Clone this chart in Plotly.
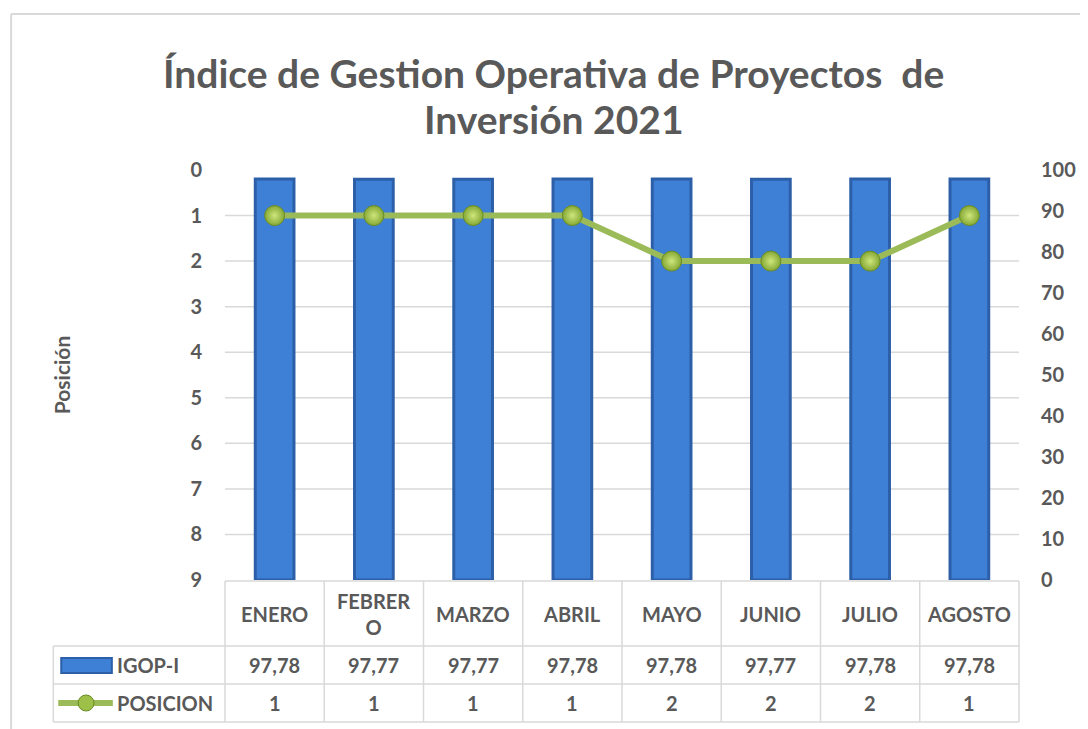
import plotly.graph_objects as go

months = ["ENERO", "FEBRERO", "MARZO", "ABRIL", "MAYO", "JUNIO", "JULIO", "AGOSTO"]
month_labels = ["ENERO", "FEBRER<br>O", "MARZO", "ABRIL", "MAYO", "JUNIO", "JULIO", "AGOSTO"]
igop = [97.78, 97.77, 97.77, 97.78, 97.78, 97.77, 97.78, 97.78]
igop_text = ["97,78", "97,77", "97,77", "97,78", "97,78", "97,77", "97,78", "97,78"]
posicion = [1, 1, 1, 1, 2, 2, 2, 1]
left_ticks = list(range(0, 10))
right_ticks = list(range(0, 101, 10))
title_lines = ["Índice de Gestion Operativa de Proyectos  de", "Inversión 2021"]

FONT = "Lato, Carlito, 'DejaVu Sans', sans-serif"
GRAY = "#595959"
GRID = "#d9d9d9"
BAR = "#3D80D6"
BAR_EDGE = "#2C5FA8"
GREEN = "#9BBB59"

# page body has an 8px margin; figure origin sits at (8, 8) of the window
OFF = 8
FW, FH = 1080, 721
PL, PR, PT, PB = 225, 1025, 170, 580  # plot area in window pixels
PW, PH = PR - PL, PB - PT


def px(xp):
    return (xp - PL) / PW


def py(yp):
    return (PB - yp) / PH


fig = go.Figure()
fig.add_trace(go.Bar(
    x=months, y=igop, name="IGOP-I", width=0.39, yaxis="y",
    marker=dict(color=BAR, line=dict(color=BAR_EDGE, width=3)),
))
fig.add_trace(go.Scatter(
    x=months, y=posicion, name="POSICION", yaxis="y2", mode="lines+markers",
    line=dict(color=GREEN, width=6),
    marker=dict(size=20, color="#84A834", line=dict(color="#6A8A28", width=1),
                gradient=dict(type="radial", color="#CFE67C")),
))

shapes = []
for v in left_ticks[1:-1]:
    shapes.append(dict(type="line", xref="paper", yref="y2", x0=0, x1=1, y0=v, y1=v,
                       line=dict(color=GRID, width=1.5), layer="below"))

ncat = len(months)
top, r1, r2, r3 = py(581), py(646), py(684), py(722)
left_col = px(52)
for k in range(ncat + 1):
    shapes.append(dict(type="line", xref="paper", yref="paper", x0=k / ncat, x1=k / ncat,
                       y0=top, y1=r3, line=dict(color=GRID, width=1.5)))
shapes.append(dict(type="line", xref="paper", yref="paper", x0=left_col, x1=left_col,
                   y0=r1, y1=r3, line=dict(color=GRID, width=1.5)))
shapes.append(dict(type="line", xref="paper", yref="paper", x0=0, x1=1, y0=top, y1=top,
                   line=dict(color=GRID, width=1.5)))
for yy in (r1, r2, r3):
    shapes.append(dict(type="line", xref="paper", yref="paper", x0=left_col, x1=1, y0=yy, y1=yy,
                       line=dict(color=GRID, width=1.5)))

# legend keys inside table
shapes.append(dict(type="rect", xref="paper", yref="paper", x0=px(60), x1=px(111),
                   y0=py(673), y1=py(658), fillcolor=BAR, line=dict(color=BAR_EDGE, width=2)))
shapes.append(dict(type="line", xref="paper", yref="paper", x0=px(57), x1=px(112),
                   y0=py(703), y1=py(703), line=dict(color=GREEN, width=6)))
shapes.append(dict(type="circle", xref="paper", yref="paper", x0=px(77), x1=px(93),
                   y0=py(711), y1=py(695), fillcolor="#9DC048", line=dict(color="#6A8A28", width=1)))

# outer chart border (left and top)
shapes.append(dict(type="line", xref="paper", yref="paper", x0=px(9.5), x1=px(9.5),
                   y0=py(14), y1=py(760), line=dict(color=GRID, width=2)))
shapes.append(dict(type="line", xref="paper", yref="paper", x0=px(9.5), x1=px(1120),
                   y0=py(14), y1=py(14), line=dict(color=GRID, width=2)))

ann = []
tf = dict(family=FONT, size=20, color=GRAY, weight="bold")
for m, lab, t, p in zip(months, month_labels, igop_text, posicion):
    ann.append(dict(xref="x", yref="paper", x=m, y=py(614), text=lab, showarrow=False,
                    font=tf, yanchor="middle"))
    ann.append(dict(xref="x", yref="paper", x=m, y=py(665), text=t, showarrow=False,
                    font=tf, yanchor="middle"))
    ann.append(dict(xref="x", yref="paper", x=m, y=py(703), text=str(p), showarrow=False,
                    font=tf, yanchor="middle"))
ann.append(dict(xref="paper", yref="paper", x=px(114), y=py(665), text="IGOP-I", showarrow=False,
                font=tf, xanchor="left", yanchor="middle"))
ann.append(dict(xref="paper", yref="paper", x=px(114), y=py(703), text="POSICION", showarrow=False,
                font=tf, xanchor="left", yanchor="middle"))
ann.append(dict(xref="paper", yref="paper", x=px(60), y=py(375), text="Posición", showarrow=False,
                textangle=-90, font=dict(family=FONT, size=21, color=GRAY, weight="bold"),
                xanchor="center", yanchor="middle"))
for line, yc in zip(title_lines, (73, 119)):
    ann.append(dict(xref="paper", yref="paper", x=px(556), y=py(yc), text=line,
                    showarrow=False, font=dict(family=FONT, size=39, color=GRAY, weight="bold"),
                    xanchor="center", yanchor="middle"))

fig.update_layout(
    width=FW, height=FH,
    margin=dict(l=PL - OFF, r=FW - (PR - OFF), t=PT - OFF, b=FH - (PB - OFF), pad=0),
    paper_bgcolor="white", plot_bgcolor="white",
    showlegend=False,
    xaxis=dict(type="category", categoryarray=months, range=[-0.5, ncat - 0.5],
               showticklabels=False, showgrid=False, zeroline=False, showline=False, ticks=""),
    yaxis=dict(side="right", range=[0, 100], tickvals=right_ticks, showgrid=False, zeroline=False,
               showline=False, ticks="outside", ticklen=17, tickcolor="rgba(0,0,0,0)",
               tickfont=dict(family=FONT, size=20, color=GRAY, weight="bold")),
    yaxis2=dict(overlaying="y", side="left", range=[9, 0], tickvals=left_ticks, showgrid=False,
                zeroline=False, showline=False, ticks="outside", ticklen=18,
                tickcolor="rgba(0,0,0,0)",
                tickfont=dict(family=FONT, size=20, color=GRAY, weight="bold")),
    shapes=shapes,
    annotations=ann,
)

fig.write_html("out.html")
